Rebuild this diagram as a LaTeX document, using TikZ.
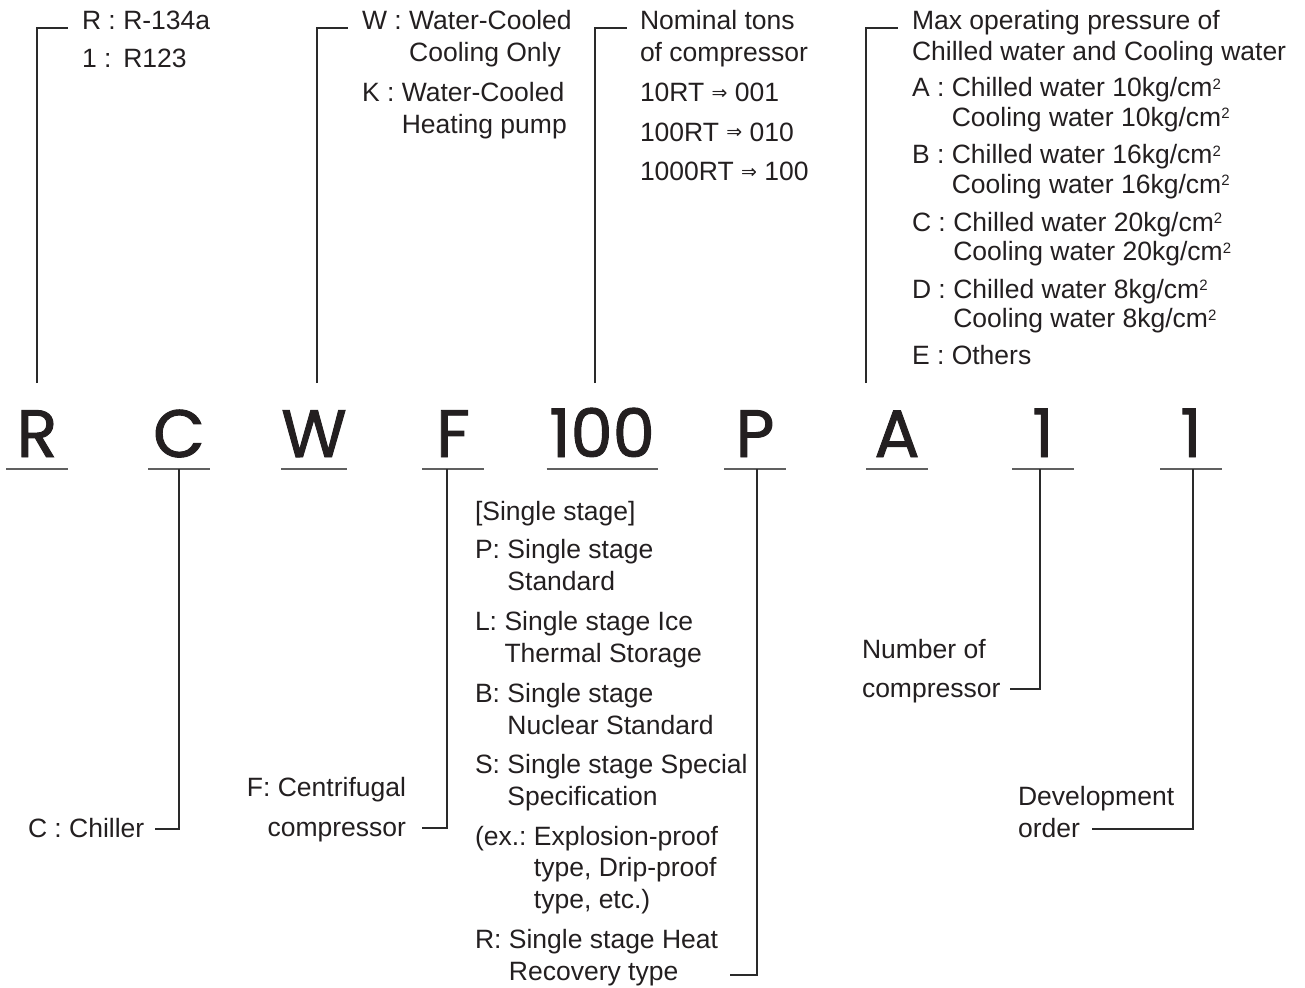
\documentclass[tikz,border=0pt]{standalone}
\usepackage{fontspec}
\setmainfont{Liberation Sans}
\newfontfamily\bigfont{Poppins}[FakeBold=1.4]
\newfontfamily\arrfont{DejaVu Sans}
\definecolor{txt}{HTML}{231F20}
\definecolor{ulc}{HTML}{606060}
\definecolor{lnc}{HTML}{2A2A2A}
\newcommand\supii{\smash{\raisebox{7.5pt}{\fontsize{15}{15}\selectfont 2}}}
\newcommand\arr{\raisebox{2.5pt}{\arrfont\fontsize{19}{19}\selectfont ⇒}}
\newcommand\tsz[1]{\fontsize{26.5}{#1}\selectfont}
\tikzset{
  lbl/.style={anchor=base west, inner sep=0pt, outer sep=0pt, text=txt},
  lblr/.style={anchor=base east, inner sep=0pt, outer sep=0pt, text=txt},
  big/.style={anchor=base, inner sep=0pt, outer sep=0pt, text=txt, font=\bigfont\fontsize{67}{67}\selectfont, minimum width=62pt},
  uline/.style={draw=ulc, line width=2pt},
  conn/.style={draw=lnc, line width=1.3pt},
}
\begin{document}
\begin{tikzpicture}[x=1pt,y=-1pt]
\useasboundingbox (0,0) rectangle (1305,987);

% big code letters
\node[big] (R) at (37,457) {R};
\node[big] (C) at (179,457) {C};
\node[big] (W) at (314,457) {W};
\node[big] (F) at (453,457) {F};
\node[big, minimum width=111pt] (N) at (602,457) {100};
\node[big] (P) at (755,457) {P};
\node[big] (A) at (897,457) {A};
\node[big] (O1) at (1043,457) {1};
\node[big] (O2) at (1191,457) {1};
\foreach \n in {R,C,W,F,N,P,A,O1,O2}
  \draw[uline] ([yshift=-12pt]\n.base west) -- ([yshift=-12pt]\n.base east);

% upper texts
\node[lbl, font=\tsz{38}] (tR) at (82,30) {\begin{tabular}[t]{@{}l@{\hspace{0.28em}}l@{}}R :&R-134a\\1 :&R123\end{tabular}};
\node[lbl, font=\tsz{31.5}] (tW1) at (362,30) {\begin{tabular}[t]{@{}l@{\hspace{0.28em}}l@{}}W :&Water-Cooled\\&Cooling Only\end{tabular}};
\node[lbl, font=\tsz{31.5}] (tW2) at (362,102) {\begin{tabular}[t]{@{}l@{\hspace{0.28em}}l@{}}K :&Water-Cooled\\&Heating pump\end{tabular}};
\node[lbl, font=\tsz{32}] (tN1) at (640,30) {\begin{tabular}[t]{@{}l@{}}Nominal tons\\of compressor\end{tabular}};
\node[lbl, font=\tsz{39.5}] (tN2) at (640,102) {\begin{tabular}[t]{@{}l@{}}10RT \arr\ 001\\100RT \arr\ 010\\1000RT \arr\ 100\end{tabular}};
\node[lbl, font=\tsz{31}] (tA0) at (912,30) {\begin{tabular}[t]{@{}l@{}}Max operating pressure of\\Chilled water and Cooling water\end{tabular}};
\node[lbl, font=\tsz{29.5}] (tAa) at (912,97) {\begin{tabular}[t]{@{}l@{\hspace{0.28em}}l@{}}A :&Chilled water 10kg/cm\supii\\&Cooling water 10kg/cm\supii\end{tabular}};
\node[lbl, font=\tsz{29.5}] (tAb) at (912,164) {\begin{tabular}[t]{@{}l@{\hspace{0.28em}}l@{}}B :&Chilled water 16kg/cm\supii\\&Cooling water 16kg/cm\supii\end{tabular}};
\node[lbl, font=\tsz{29.5}] (tAc) at (912,231) {\begin{tabular}[t]{@{}l@{\hspace{0.28em}}l@{}}C :&Chilled water 20kg/cm\supii\\&Cooling water 20kg/cm\supii\end{tabular}};
\node[lbl, font=\tsz{29.5}] (tAd) at (912,298) {\begin{tabular}[t]{@{}l@{\hspace{0.28em}}l@{}}D :&Chilled water 8kg/cm\supii\\&Cooling water 8kg/cm\supii\end{tabular}};
\node[lbl, font=\tsz{29.5}] (tAe) at (912,364) {E : Others};

% lower texts
\node[lbl, font=\tsz{32}] (tC) at (28,837) {C : Chiller};
\node[lblr, font=\tsz{40}] (tF) at (406,796) {\begin{tabular}[t]{@{}r@{}}F: Centrifugal\\compressor\end{tabular}};
\node[lbl, font=\tsz{32}] (tP0) at (475,520) {[Single stage]};
\node[lbl, font=\tsz{32}] (tP1) at (475,558) {\begin{tabular}[t]{@{}l@{\hspace{0.28em}}l@{}}P:&Single stage\\&Standard\end{tabular}};
\node[lbl, font=\tsz{32}] (tP2) at (475,630) {\begin{tabular}[t]{@{}l@{\hspace{0.28em}}l@{}}L:&Single stage Ice\\&Thermal Storage\end{tabular}};
\node[lbl, font=\tsz{32}] (tP3) at (475,702) {\begin{tabular}[t]{@{}l@{\hspace{0.28em}}l@{}}B:&Single stage\\&Nuclear Standard\end{tabular}};
\node[lbl, font=\tsz{32}] (tP4) at (475,773) {\begin{tabular}[t]{@{}l@{\hspace{0.28em}}l@{}}S:&Single stage Special\\&Specification\end{tabular}};
\node[lbl, font=\tsz{31.5}] (tP5) at (475,845) {\begin{tabular}[t]{@{}l@{\hspace{0.28em}}l@{}}(ex.:&Explosion-proof\\&type, Drip-proof\\&type, etc.)\end{tabular}};
\node[lbl, font=\tsz{32}] (tP6) at (475,948) {\begin{tabular}[t]{@{}l@{\hspace{0.28em}}l@{}}R:&Single stage Heat\\&Recovery type\end{tabular}};
\node[lbl, font=\tsz{39}] (tO1) at (862,658) {\begin{tabular}[t]{@{}l@{}}Number of\\compressor\end{tabular}};
\node[lbl, font=\tsz{32}] (tO2) at (1018,805) {\begin{tabular}[t]{@{}l@{}}Development\\order\end{tabular}};

% connector end points
\coordinate (uR) at (37,383);   \coordinate (hR) at (68,28);
\coordinate (uW) at (317,383);  \coordinate (hW) at (348,28);
\coordinate (uN) at (595,383);  \coordinate (hN) at (627,28);
\coordinate (uA) at (866,383);  \coordinate (hA) at (898,28);
\coordinate (dC) at (179,469);  \coordinate (eC) at (155,829);
\coordinate (dF) at (447,469);  \coordinate (eF) at (422,828);
\coordinate (dP) at (757,469);  \coordinate (eP) at (730,975);
\coordinate (d1) at (1040,469); \coordinate (e1) at (1010,689);
\coordinate (d2) at (1193,469); \coordinate (e2) at (1092,829);

\draw[conn] (uR) |- (hR);
\draw[conn] (uW) |- (hW);
\draw[conn] (uN) |- (hN);
\draw[conn] (uA) |- (hA);
\draw[conn] (dC) |- (eC);
\draw[conn] (dF) |- (eF);
\draw[conn] (dP) |- (eP);
\draw[conn] (d1) |- (e1);
\draw[conn] (d2) |- (e2);
\end{tikzpicture}
\end{document}
